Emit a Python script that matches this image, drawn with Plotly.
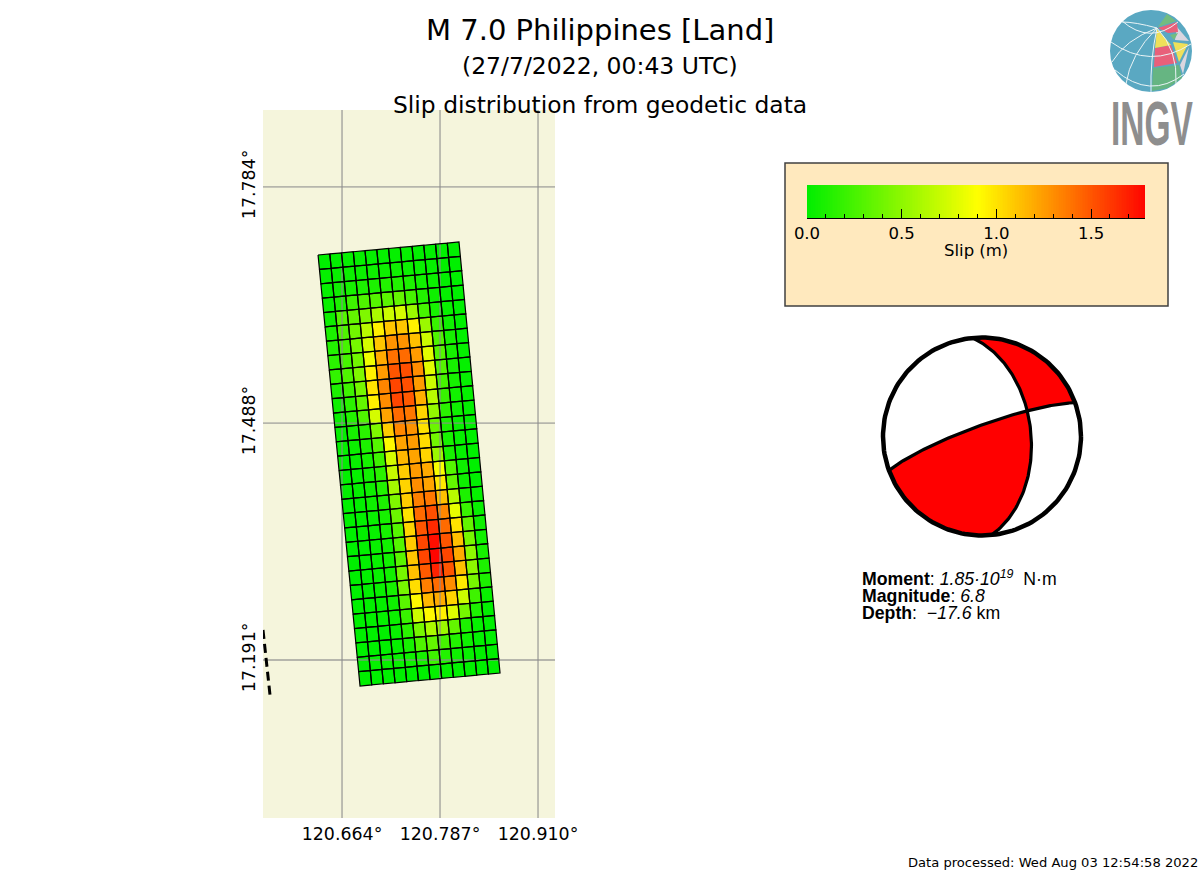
import numpy as np
import plotly.graph_objects as go

W, H = 1200, 873

# slip in metres, rows from the top edge of the fault, 12 columns along strike
slip = [
    [0.00, 0.01, 0.02, 0.02, 0.02, 0.02, 0.02, 0.02, 0.01, 0.01, 0.00, 0.00],
    [0.02, 0.03, 0.04, 0.04, 0.05, 0.05, 0.05, 0.04, 0.03, 0.02, 0.01, 0.00],
    [0.02, 0.05, 0.08, 0.10, 0.10, 0.12, 0.12, 0.10, 0.06, 0.04, 0.01, 0.00],
    [0.03, 0.10, 0.22, 0.28, 0.30, 0.32, 0.35, 0.25, 0.12, 0.05, 0.02, 0.00],
    [0.05, 0.30, 0.35, 0.45, 0.60, 0.72, 0.75, 0.55, 0.25, 0.08, 0.03, 0.00],
    [0.10, 0.28, 0.40, 0.65, 0.95, 1.10, 1.10, 0.95, 0.55, 0.20, 0.05, 0.00],
    [0.12, 0.25, 0.42, 0.75, 1.10, 1.28, 1.28, 1.12, 0.72, 0.28, 0.08, 0.00],
    [0.15, 0.25, 0.40, 0.85, 1.20, 1.40, 1.42, 1.25, 0.80, 0.30, 0.08, 0.02],
    [0.18, 0.28, 0.45, 0.95, 1.25, 1.50, 1.52, 1.30, 0.80, 0.30, 0.08, 0.02],
    [0.10, 0.22, 0.42, 1.00, 1.33, 1.55, 1.52, 1.25, 0.72, 0.25, 0.08, 0.02],
    [0.05, 0.15, 0.35, 0.95, 1.30, 1.55, 1.48, 1.18, 0.65, 0.20, 0.06, 0.02],
    [0.03, 0.12, 0.28, 0.75, 1.22, 1.42, 1.38, 1.05, 0.52, 0.15, 0.05, 0.01],
    [0.02, 0.08, 0.15, 0.45, 1.08, 1.32, 1.28, 1.00, 0.38, 0.10, 0.03, 0.00],
    [0.02, 0.04, 0.10, 0.30, 0.92, 1.22, 1.25, 1.02, 0.40, 0.08, 0.02, 0.00],
    [0.01, 0.03, 0.08, 0.22, 0.75, 1.15, 1.22, 1.05, 0.55, 0.08, 0.02, 0.00],
    [0.01, 0.02, 0.06, 0.15, 0.70, 1.08, 1.25, 1.20, 0.88, 0.30, 0.05, 0.00],
    [0.01, 0.02, 0.05, 0.12, 0.58, 1.05, 1.30, 1.22, 0.98, 0.35, 0.05, 0.00],
    [0.00, 0.01, 0.05, 0.10, 0.45, 1.08, 1.35, 1.38, 1.12, 0.65, 0.10, 0.02],
    [0.00, 0.01, 0.03, 0.08, 0.38, 1.00, 1.42, 1.52, 1.32, 0.82, 0.20, 0.03],
    [0.00, 0.01, 0.03, 0.08, 0.30, 1.05, 1.50, 1.65, 1.42, 1.00, 0.35, 0.05],
    [0.00, 0.01, 0.03, 0.06, 0.30, 1.08, 1.55, 1.75, 1.50, 1.12, 0.42, 0.06],
    [0.00, 0.01, 0.03, 0.06, 0.32, 1.10, 1.55, 1.78, 1.55, 1.20, 0.50, 0.08],
    [0.00, 0.01, 0.03, 0.06, 0.42, 1.12, 1.48, 1.68, 1.50, 1.12, 0.50, 0.10],
    [0.00, 0.01, 0.03, 0.08, 0.42, 1.02, 1.35, 1.42, 1.30, 0.98, 0.42, 0.10],
    [0.00, 0.01, 0.02, 0.05, 0.32, 0.92, 1.15, 1.20, 1.05, 0.72, 0.22, 0.03],
    [0.00, 0.01, 0.02, 0.04, 0.20, 0.72, 0.92, 0.95, 0.78, 0.42, 0.10, 0.01],
    [0.00, 0.00, 0.01, 0.03, 0.15, 0.42, 0.60, 0.55, 0.35, 0.10, 0.02, 0.00],
    [0.00, 0.00, 0.01, 0.02, 0.08, 0.28, 0.35, 0.25, 0.12, 0.05, 0.01, 0.00],
    [0.00, 0.02, 0.03, 0.03, 0.05, 0.08, 0.22, 0.12, 0.05, 0.03, 0.01, 0.00],
    [0.00, 0.00, 0.00, 0.00, 0.00, 0.00, 0.02, 0.02, 0.01, 0.00, 0.00, 0.00],
]

# fault plane corners, lon / lat
corner_tl = (120.6339, 17.6987)
corner_tr = (120.8108, 17.7150)
corner_bl = (120.6866, 17.1584)
corner_br = (120.8623, 17.1747)

# surface trace, lower left of the map
trace_lon = [120.5648, 120.5736]
trace_lat = [17.2286, 17.1471]

lon_range = [120.5648, 120.9313]
lat_range = [16.9929, 17.8805]
lon_ticks = [120.664, 120.787, 120.910]
lat_ticks = [17.191, 17.488, 17.784]
lon_labels = ['120.664°', '120.787°', '120.910°']
lat_labels = ['17.191°', '17.488°', '17.784°']

slip_max = 1.785
slip_ticks = [0.0, 0.5, 1.0, 1.5]

# nodal planes
strike1, dip1 = 250.0, 81.0
strike2, dip2 = 354.5, 49.0


def hx(px):
    return px / W


def hy(py):
    return 1 - py / H


def slip_colour(v):
    t = min(v / 1.8, 1.0)
    if t < 0.5:
        r, g = 510 * t, 240 + 30 * t
    else:
        r, g = 255, 255 - 510 * (t - 0.5)
    return 'rgb(%d,%d,0)' % (r, g)


def corner(u, v):
    # u across the columns, v down the rows
    lon = (1-u)*(1-v)*corner_tl[0] + u*(1-v)*corner_tr[0] + (1-u)*v*corner_bl[0] + u*v*corner_br[0]
    lat = (1-u)*(1-v)*corner_tl[1] + u*(1-v)*corner_tr[1] + (1-u)*v*corner_bl[1] + u*v*corner_br[1]
    return lon, lat


def plane_axes(strike, dip):
    st, dp = np.radians(strike), np.radians(dip)
    s = np.array([np.sin(st), np.cos(st), 0.0])
    d = np.array([np.cos(st)*np.cos(dp), -np.sin(st)*np.cos(dp), np.sin(dp)])
    return s, d


def project(a, s, d):
    # equal area, lower hemisphere
    v = np.outer(np.cos(a), s) + np.outer(np.sin(a), d)
    theta = np.arccos(np.clip(v[:, 2], 0, 1))
    r = np.sqrt(2) * np.sin(theta / 2)
    az = np.arctan2(v[:, 0], v[:, 1])
    return r * np.sin(az), r * np.cos(az)


fig = go.Figure()

# map cells: fills first, then the graticule over them, then the cell borders
n_rows, n_cols = len(slip), len(slip[0])
edge_x, edge_y = [], []
for i in range(n_rows):
    for j in range(n_cols):
        pts = [corner(j/n_cols, i/n_rows), corner((j+1)/n_cols, i/n_rows),
               corner((j+1)/n_cols, (i+1)/n_rows), corner(j/n_cols, (i+1)/n_rows),
               corner(j/n_cols, i/n_rows)]
        xs = [p[0] for p in pts]
        ys = [p[1] for p in pts]
        fig.add_trace(go.Scatter(x=xs, y=ys, mode='lines', fill='toself',
                                 fillcolor=slip_colour(slip[i][j]),
                                 line=dict(width=0),
                                 hoverinfo='skip', showlegend=False))
        edge_x += xs + [None]
        edge_y += ys + [None]

graticule = dict(mode='lines', line=dict(color='rgba(140,140,140,0.6)', width=1.8),
                 hoverinfo='skip', showlegend=False)
for lon in lon_ticks:
    fig.add_trace(go.Scatter(x=[lon, lon], y=lat_range, **graticule))
for lat in lat_ticks:
    fig.add_trace(go.Scatter(x=lon_range, y=[lat, lat], **graticule))

fig.add_trace(go.Scatter(x=edge_x, y=edge_y, mode='lines',
                         line=dict(color='black', width=1.2),
                         hoverinfo='skip', showlegend=False))

fig.add_trace(go.Scatter(x=trace_lon, y=trace_lat, mode='lines',
                         line=dict(color='black', width=3, dash='9px,5px'),
                         hoverinfo='skip', showlegend=False))

# colour bar
ramp = np.linspace(0, slip_max, 200)
fig.add_trace(go.Heatmap(x=ramp, y=[0, 1], z=[ramp, ramp], zmin=0, zmax=1.8,
                         colorscale=[[0, '#00ee00'], [0.5, '#ffff00'], [1, '#ff0000']],
                         showscale=False, hoverinfo='skip', xaxis='x2', yaxis='y2'))

# beach ball
s1, d1 = plane_axes(strike1, dip1)
s2, d2 = plane_axes(strike2, dip2)
n1, n2 = np.cross(s1, d1), np.cross(s2, d2)
inter = np.cross(n1, n2)
if inter[2] < 0:
    inter = -inter
a1 = np.arctan2(inter @ d1, inter @ s1)
a2 = np.arctan2(inter @ d2, inter @ s2)

# plane 1 starts at its west end, plane 2 at its north end
west_x, west_y = project(np.linspace(0, a1, 60), s1, d1)
east_x, east_y = project(np.linspace(a1, np.pi, 60), s1, d1)
north_x, north_y = project(np.linspace(0, a2, 60), s2, d2)
south_x, south_y = project(np.linspace(a2, np.pi, 60), s2, d2)


def rim(x0, y0, x1, y1, clockwise):
    t0, t1 = np.arctan2(y0, x0), np.arctan2(y1, x1)
    if clockwise and t1 > t0:
        t1 -= 2 * np.pi
    if not clockwise and t1 < t0:
        t1 += 2 * np.pi
    t = np.linspace(t0, t1, 60)
    return np.cos(t), np.sin(t)


t_all = np.radians(np.arange(0, 361, 2))
ball = dict(hoverinfo='skip', showlegend=False, xaxis='x3', yaxis='y3')
fig.add_trace(go.Scatter(x=np.cos(t_all), y=np.sin(t_all), mode='lines', fill='toself',
                         fillcolor='white', line=dict(color='black', width=0), **ball))

# top right wedge
rx, ry = rim(east_x[-1], east_y[-1], north_x[0], north_y[0], False)
fig.add_trace(go.Scatter(x=np.concatenate([north_x, east_x, rx]),
                         y=np.concatenate([north_y, east_y, ry]),
                         mode='lines', fill='toself', fillcolor='#ff0000',
                         line=dict(color='black', width=0), **ball))

# lower left wedge
rx, ry = rim(south_x[-1], south_y[-1], west_x[0], west_y[0], True)
fig.add_trace(go.Scatter(x=np.concatenate([west_x, south_x, rx]),
                         y=np.concatenate([west_y, south_y, ry]),
                         mode='lines', fill='toself', fillcolor='#ff0000',
                         line=dict(color='black', width=0), **ball))

for part_x, part_y in ((west_x, west_y), (east_x, east_y), (north_x, north_y), (south_x, south_y)):
    fig.add_trace(go.Scatter(x=part_x, y=part_y, mode='lines',
                             line=dict(color='black', width=3.2), **ball))
fig.add_trace(go.Scatter(x=np.cos(t_all), y=np.sin(t_all), mode='lines',
                         line=dict(color='black', width=4.5), **ball))

# map background and the panel behind the colour bar
shapes = [dict(type='rect', xref='paper', yref='paper', layer='below',
               x0=hx(263), x1=hx(555), y0=hy(818), y1=hy(110),
               fillcolor='#F5F5DC', line=dict(width=0)),
          dict(type='rect', xref='paper', yref='paper', layer='below',
               x0=hx(785), x1=hx(1168), y0=hy(306), y1=hy(163),
               fillcolor='#FFE9BE', line=dict(color='#404040', width=1.5))]


def path(points, colour):
    d = 'M ' + ' L '.join('%.5f %.5f' % (hx(a), hy(b)) for a, b in points) + ' Z'
    return dict(type='path', path=d, xref='paper', yref='paper', layer='above',
                fillcolor=colour, line=dict(width=0))


def curve(a, b, c):
    d = 'M %.5f %.5f Q %.5f %.5f %.5f %.5f' % (hx(a[0]), hy(a[1]), hx(b[0]), hy(b[1]), hx(c[0]), hy(c[1]))
    return dict(type='path', path=d, xref='paper', yref='paper', layer='above',
                line=dict(color='#EAF4F6', width=1))


# logo globe
shapes.append(dict(type='circle', xref='paper', yref='paper', layer='above',
                   x0=hx(1110), x1=hx(1192), y0=hy(92), y1=hy(10),
                   fillcolor='#5AA8C2', line=dict(width=0)))
shapes += [
    path([(1153, 68), (1179, 65), (1182, 78), (1168, 88), (1152, 91)], '#66B582'),
    path([(1155, 48), (1171, 45), (1177, 63), (1154, 67)], '#E8607A'),
    path([(1157, 29), (1171, 45), (1155, 48)], '#EFE05A'),
    path([(1173, 42), (1188, 44), (1179, 62)], '#EFE05A'),
    path([(1177, 27), (1189, 41), (1175, 40)], '#DAD6DF'),
    path([(1189, 47), (1183, 74), (1180, 65)], '#DAD6DF'),
    path([(1158, 28), (1177, 22), (1178, 32), (1168, 33)], '#E8607A'),
    path([(1158, 27), (1167, 14), (1176, 21)], '#72BC80'),
    path([(1170, 35), (1178, 33), (1174, 40)], '#72BC80'),
    curve((1157, 28), (1150, 60), (1151, 92)),
    curve((1157, 28), (1130, 55), (1126, 84)),
    curve((1157, 28), (1125, 40), (1112, 62)),
    curve((1157, 28), (1135, 22), (1122, 22)),
    curve((1157, 28), (1178, 50), (1176, 84)),
    curve((1111, 42), (1150, 70), (1191, 44)),
    curve((1115, 70), (1150, 100), (1184, 74)),
    curve((1122, 21), (1150, 45), (1178, 22)),
]

font = 'DejaVu Sans'
annotations = []


def label(text, x, y, size, family=font, colour='black', anchor='center'):
    annotations.append(dict(text=text, x=hx(x), y=hy(y), xref='paper', yref='paper',
                            xanchor=anchor, yanchor='middle', showarrow=False,
                            font=dict(family=family, size=size, color=colour)))


label('M 7.0 Philippines [Land]', 600, 30, 29)
label('(27/7/2022, 00:43 UTC)', 600, 66, 23.5)
label('Slip distribution from geodetic data', 600, 105, 23.4)
label('Slip (m)', 976, 251, 16.5)
label('Data processed: Wed Aug 03 12:54:58 2022', 1200, 862, 13.1, anchor='right')
label('<b>Moment</b>: <i>1.85·10<sup>19</sup></i>\u00a0\u00a0N·m', 860, 578, 17.7, 'Liberation Sans', anchor='left')
label('<b>Magnitude</b>: <i>6.8</i>', 860, 596, 17.7, 'Liberation Sans', anchor='left')
label('<b>Depth</b>:\u00a0\u00a0<i>−17.6</i>\u00a0km', 860, 613, 17.7, 'Liberation Sans', anchor='left')
label('<b>INGV</b>', 1152, 123.5, 33.5, 'Liberation Sans', '#8E8E8E')

map_axis = dict(showgrid=False, zeroline=False, automargin=False, ticks='', showline=False,
                ticklabelstandoff=4, tickfont=dict(family=font, size=17.4, color='black'))

fig.update_layout(
    width=W, height=H, autosize=False,
    margin=dict(l=0, r=0, t=0, b=0),
    paper_bgcolor='white', plot_bgcolor='rgba(0,0,0,0)',
    showlegend=False, shapes=shapes, annotations=annotations,
    font=dict(family=font),
    xaxis=dict(domain=[hx(263), hx(555)], range=lon_range,
               tickvals=lon_ticks, ticktext=lon_labels, anchor='y', **map_axis),
    yaxis=dict(domain=[hy(818), hy(110)], range=lat_range,
               tickvals=lat_ticks, ticktext=lat_labels, tickangle=-90, anchor='x', **map_axis),
    xaxis2=dict(domain=[hx(807), hx(1145)], range=[0, slip_max], anchor='y2', automargin=False,
                tickvals=slip_ticks, tickformat='.1f', ticks='inside', ticklen=9, tickwidth=1.2,
                tickcolor='black', showline=True, linecolor='black', linewidth=1.2,
                minor=dict(dtick=0.1, ticks='inside', ticklen=4, tickcolor='black', tickwidth=1.2),
                tickfont=dict(family=font, size=16.5, color='black'),
                showgrid=False, zeroline=False),
    yaxis2=dict(domain=[hy(218), hy(185)], range=[0, 1], anchor='x2', visible=False, automargin=False),
    xaxis3=dict(domain=[hx(875), hx(1089)], range=[-1.0808, 1.0808], anchor='y3', visible=False, automargin=False),
    yaxis3=dict(domain=[hy(543.5), hy(329.5)], range=[-1.0808, 1.0808], anchor='x3', visible=False, automargin=False),
)

# page margin off, and the logo lettering stretched to its tall narrow shape
post = """
document.body.style.margin = '0';
setTimeout(function () {
  document.querySelectorAll('.annotation-text').forEach(function (el) {
    if (el.textContent === 'INGV') {
      var b = el.getBBox();
      var cx = b.x + b.width / 2, cy = b.y + b.height / 2;
      el.setAttribute('transform', 'translate(' + cx + ',' + cy + ') scale(1,1.87) translate(' + (-cx) + ',' + (-cy) + ')');
    }
  });
}, 50);
"""
fig.write_html("out.html", config=dict(displayModeBar=False), post_script=post)
